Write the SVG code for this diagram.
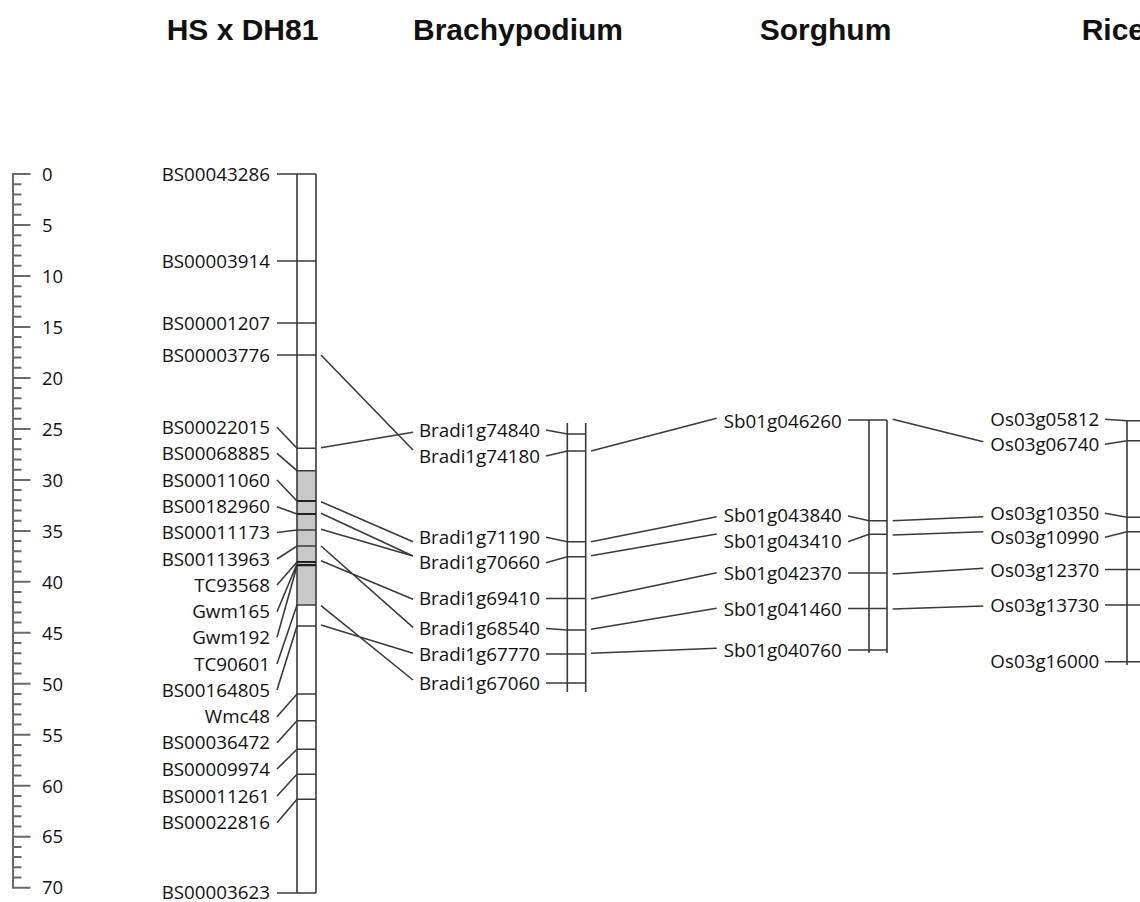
<svg xmlns="http://www.w3.org/2000/svg" width="1140" height="902" viewBox="0 0 1140 902">
<style>
.t{font-family:"Liberation Sans",Arial,sans-serif;font-weight:bold;font-size:30px;fill:#111;text-anchor:middle}
.l{font-family:"Open Sans","Noto Sans",sans-serif;font-size:18.8px;fill:#111}
.r{text-anchor:end}
.s{font-family:"Open Sans","Noto Sans",sans-serif;font-size:18.5px;fill:#111}
.ln{stroke:#3a3a3a;stroke-width:1.6;fill:none}
.dk{stroke:#222;stroke-width:2.2;fill:none}
.tk{stroke:#6a6a6a;stroke-width:2;fill:none}
</style>
<rect width="1140" height="902" fill="#fff"/>
<g id="titles">
<text class="t" x="242.5" y="40">HS x DH81</text>
<text class="t" x="518" y="40">Brachypodium</text>
<text class="t" x="825.5" y="40">Sorghum</text>
<text class="t" x="1081.7" y="40" style="text-anchor:start">Rice</text>
</g>
<g id="scale">
<path class="tk" d="M13,173V888.7
M13,174H30.5 M13,184.2H21.5 M13,194.4H21.5 M13,204.6H21.5 M13,214.8H21.5
M13,225H30.5 M13,235.2H21.5 M13,245.4H21.5 M13,255.6H21.5 M13,265.8H21.5
M13,276H30.5 M13,286.2H21.5 M13,296.4H21.5 M13,306.5H21.5 M13,316.7H21.5
M13,326.9H30.5 M13,337.1H21.5 M13,347.3H21.5 M13,357.5H21.5 M13,367.7H21.5
M13,377.9H30.5 M13,388.1H21.5 M13,398.3H21.5 M13,408.5H21.5 M13,418.7H21.5
M13,428.9H30.5 M13,439.1H21.5 M13,449.3H21.5 M13,459.5H21.5 M13,469.7H21.5
M13,479.9H30.5 M13,490.1H21.5 M13,500.3H21.5 M13,510.5H21.5 M13,520.7H21.5
M13,530.9H30.5 M13,541.1H21.5 M13,551.3H21.5 M13,561.4H21.5 M13,571.6H21.5
M13,581.8H30.5 M13,592H21.5 M13,602.2H21.5 M13,612.4H21.5 M13,622.6H21.5
M13,632.8H30.5 M13,643H21.5 M13,653.2H21.5 M13,663.4H21.5 M13,673.6H21.5
M13,683.8H30.5 M13,694H21.5 M13,704.2H21.5 M13,714.4H21.5 M13,724.6H21.5
M13,734.8H30.5 M13,745H21.5 M13,755.2H21.5 M13,765.4H21.5 M13,775.6H21.5
M13,785.8H30.5 M13,796H21.5 M13,806.2H21.5 M13,816.3H21.5 M13,826.5H21.5
M13,836.7H30.5 M13,846.9H21.5 M13,857.1H21.5 M13,867.3H21.5 M13,877.5H21.5
M13,887.7H30.5"/>
<text class="s" x="42" y="180.7">0</text>
<text class="s" x="42" y="231.7">5</text>
<text class="s" x="42" y="282.7">10</text>
<text class="s" x="42" y="333.6">15</text>
<text class="s" x="42" y="384.6">20</text>
<text class="s" x="42" y="435.6">25</text>
<text class="s" x="42" y="486.6">30</text>
<text class="s" x="42" y="537.6">35</text>
<text class="s" x="42" y="588.5">40</text>
<text class="s" x="42" y="639.5">45</text>
<text class="s" x="42" y="690.5">50</text>
<text class="s" x="42" y="741.5">55</text>
<text class="s" x="42" y="792.5">60</text>
<text class="s" x="42" y="843.4">65</text>
<text class="s" x="42" y="894.4">70</text>
</g>
<g id="node-hs">
<rect x="297" y="470.7" width="19" height="134.3" fill="#c8c8c8"/>
<path class="ln" d="M297,174V893 M316,174V893"/>
<path class="ln" d="M277,174H316 M277,261H316 M277,323H316 M277,355H316
M277,427.3L297,448.3H316 M277,453.3L297,470.7H316 M277,480L297,501 M277,506.7L297,514
M277,532.5L297,530H316 M277,559L297,546H316 M277,585L297,562 M277,611.7L297,564
M277,637.3L297,566 M277,664L297,605H316 M277,690L297,626H316
M277,716.7L297,694H316 M277,742.7L297,720.7H316 M277,769L297,749.3H316
M277,796L297,774.3H316 M277,822.7L297,799.3H316 M277,893H316"/>
<path class="dk" d="M297,501H316 M297,514H316 M297,562H316 M297,565.2H316"/>
<g class="l r">
<text x="270" y="180.5">BS00043286</text>
<text x="270" y="267.5">BS00003914</text>
<text x="270" y="329.5">BS00001207</text>
<text x="270" y="361.5">BS00003776</text>
<text x="270" y="433.8">BS00022015</text>
<text x="270" y="459.8">BS00068885</text>
<text x="270" y="486.5">BS00011060</text>
<text x="270" y="513.2">BS00182960</text>
<text x="270" y="539">BS00011173</text>
<text x="270" y="565.5">BS00113963</text>
<text x="270" y="591.5">TC93568</text>
<text x="270" y="618.2">Gwm165</text>
<text x="270" y="643.8">Gwm192</text>
<text x="270" y="670.5">TC90601</text>
<text x="270" y="696.5">BS00164805</text>
<text x="270" y="723.2">Wmc48</text>
<text x="270" y="749.2">BS00036472</text>
<text x="270" y="775.5">BS00009974</text>
<text x="270" y="802.5">BS00011261</text>
<text x="270" y="829.2">BS00022816</text>
<text x="270" y="898.5">BS00003623</text>
</g>
</g>
<g id="node-brachypodium">
<path class="ln" d="M567.3,423V692 M585.7,423V692"/>
<path class="ln" d="M546,430L567.3,434H585.7 M546,456L567.3,451H585.7 M546,537.3L567.3,541.7H585.7
M546,562.7L567.3,556.7H585.7 M546,598.5H585.7 M546,628.5L567.3,630H585.7 M546,654H585.7 M546,683H585.7"/>
<g class="l r">
<text x="540" y="436.5">Bradi1g74840</text>
<text x="540" y="462.5">Bradi1g74180</text>
<text x="540" y="543.8">Bradi1g71190</text>
<text x="540" y="569.2">Bradi1g70660</text>
<text x="540" y="604.8">Bradi1g69410</text>
<text x="540" y="634.8">Bradi1g68540</text>
<text x="540" y="660.5">Bradi1g67770</text>
<text x="540" y="689.5">Bradi1g67060</text>
</g>
</g>
<g id="node-sorghum">
<path class="ln" d="M869,420V653 M887,420V653"/>
<path class="ln" d="M848,420H887 M848,516L869,520.7H887 M848,541.7L869,534.3H887 M848,573H887 M848,608.5H887 M848,650H887"/>
<g class="l r">
<text x="841.7" y="428.2">Sb01g046260</text>
<text x="841.7" y="522.2">Sb01g043840</text>
<text x="841.7" y="548.2">Sb01g043410</text>
<text x="841.7" y="579.8">Sb01g042370</text>
<text x="841.7" y="615.5">Sb01g041460</text>
<text x="841.7" y="656.5">Sb01g040760</text>
</g>
</g>
<g id="node-rice">
<path class="ln" d="M1127,420.7V665 M1146,420.7V665"/>
<path class="ln" d="M1105,419.3L1127,420.7H1146 M1105,444.3L1127,440.7H1146 M1105,513.3L1127,517.3H1146
M1105,537.3L1127,531.7H1146 M1105,569.5H1146 M1105,605H1146 M1105,661.7H1146"/>
<g class="l r">
<text x="1099.3" y="425.8">Os03g05812</text>
<text x="1099.3" y="450.8">Os03g06740</text>
<text x="1099.3" y="519.8">Os03g10350</text>
<text x="1099.3" y="543.8">Os03g10990</text>
<text x="1099.3" y="576.5">Os03g12370</text>
<text x="1099.3" y="612.2">Os03g13730</text>
<text x="1099.3" y="668.2">Os03g16000</text>
</g>
</g>
<g id="connectors" class="ln">
<path d="M321,355L413,450 M321,447.7L413,432.3 M321,501.7L413,541.7 M321,513.3L413,556 M321,529.3L413,556
M321,546L413,627.3 M321,560.7L413,599.3 M321,605.7L413,680 M321,625L413,653.3"/>
<path d="M591,451L716.7,418.3 M591,541.7L716.7,516.7 M591,555.7L716.7,534 M591,599L716.7,572.7 M591,629.3L716.7,608.3 M591,653.3L716.7,648.3"/>
<path d="M892.7,419.3L983.3,441.7 M892.7,520.7L983.3,516.7 M892.7,535L983.3,531.7 M892.7,574L983.3,568.3 M892.7,609L983.3,606"/>
</g>
</svg>
